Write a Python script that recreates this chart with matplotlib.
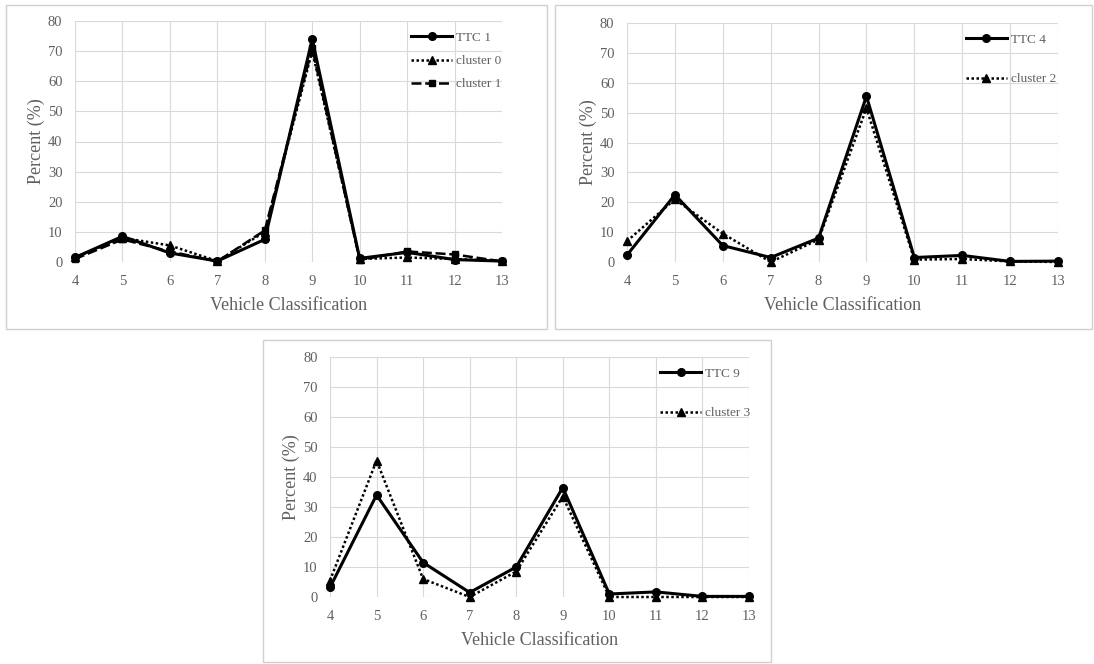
import matplotlib
matplotlib.use("Agg")
import matplotlib.pyplot as plt
from matplotlib.patches import Rectangle

plt.rcParams['font.family'] = ['Liberation Serif', 'DejaVu Serif']

classes = [4, 5, 6, 7, 8, 9, 10, 11, 12, 13]
y_ticks = [0, 10, 20, 30, 40, 50, 60, 70, 80]

ttc1 = [1.5, 8.5, 3.0, 0.3, 7.5, 74.0, 1.2, 3.2, 0.8, 0.3]
cluster0 = [1.5, 8.0, 5.5, 0.3, 10.0, 70.0, 1.0, 1.5, 1.0, 0.3]
cluster1 = [1.0, 7.5, 3.5, 0.2, 10.5, 71.0, 0.7, 3.5, 2.5, 0.2]

ttc4 = [2.3, 22.5, 5.5, 1.5, 8.0, 55.5, 1.5, 2.2, 0.2, 0.3]
cluster2 = [7.0, 21.0, 9.5, 0.0, 7.5, 51.5, 0.8, 1.0, 0.2, 0.0]

ttc9 = [3.2, 34.0, 11.5, 1.5, 10.0, 36.5, 1.0, 1.7, 0.2, 0.2]
cluster3 = [5.5, 45.5, 6.0, 0.0, 8.5, 33.5, 0.0, 0.0, 0.0, 0.0]

W, H = 1094, 664
fig = plt.figure(figsize=(W / 100, H / 100), dpi=100)
fig.patch.set_facecolor('white')

GRAY = '#606060'
GRID = '#d9d9d9'

def px_axes(x0, y0, x1, y1):
    return fig.add_axes([x0 / W, 1 - y1 / H, (x1 - x0) / W, (y1 - y0) / H])

def box(x0, y0, x1, y1):
    fig.patches.append(Rectangle((x0 / W, 1 - y1 / H), (x1 - x0) / W, (y1 - y0) / H,
                                 transform=fig.transFigure, fill=False,
                                 edgecolor='#d0d0d0', linewidth=1.0))

STYLES = {
    'solid': dict(linestyle='-', marker='o', linewidth=2.2, markersize=5.5),
    'dot': dict(linestyle=(0, (1, 1)), marker='^', linewidth=1.8, markersize=5.5),
    'dash': dict(linestyle=(0, (4, 1.5)), marker='s', linewidth=1.8, markersize=5),
}

def panel(ax, series, leg_anchor, labelspacing):
    for label, vals, st in series:
        ax.plot(classes, vals, color='black', label=label, clip_on=False, zorder=3, **STYLES[st])
    ax.set_xlim(4, 13)
    ax.set_ylim(0, 80)
    ax.set_xticks(classes)
    ax.set_yticks(y_ticks)
    ax.grid(True, color=GRID, linewidth=0.8)
    ax.set_axisbelow(True)
    for s in ax.spines.values():
        s.set_visible(False)
    ax.tick_params(length=0, labelsize=10.5, colors=GRAY)
    ax.tick_params(axis='x', pad=9.5)
    ax.tick_params(axis='y', pad=9)
    ax.set_xlabel('Vehicle Classification', fontsize=13, color=GRAY, labelpad=6)
    ax.set_ylabel('Percent (%)', fontsize=13, color=GRAY, labelpad=2)
    leg = ax.legend(loc='upper left', bbox_to_anchor=leg_anchor, frameon=False,
                    fontsize=9.5, handlelength=3.1, handletextpad=0.3,
                    labelspacing=labelspacing, borderpad=0, borderaxespad=0,
                    numpoints=1)
    for t in leg.get_texts():
        t.set_color(GRAY)

box(6, 5, 547, 329)
box(555, 5, 1092, 329)
box(263, 340, 771, 662)

ax1 = px_axes(75, 21, 502, 262)
panel(ax1, [('TTC 1', ttc1, 'solid'), ('cluster 0', cluster0, 'dot'),
            ('cluster 1', cluster1, 'dash')], (0.787, 0.955), 0.82)

ax2 = px_axes(627, 23, 1058, 262)
panel(ax2, [('TTC 4', ttc4, 'solid'), ('cluster 2', cluster2, 'dot')],
      (0.786, 0.955), 2.05)

ax3 = px_axes(330, 357, 749, 597)
panel(ax3, [('TTC 9', ttc9, 'solid'), ('cluster 3', cluster3, 'dot')],
      (0.788, 0.955), 2.05)

fig.savefig('out.png', dpi=100)
